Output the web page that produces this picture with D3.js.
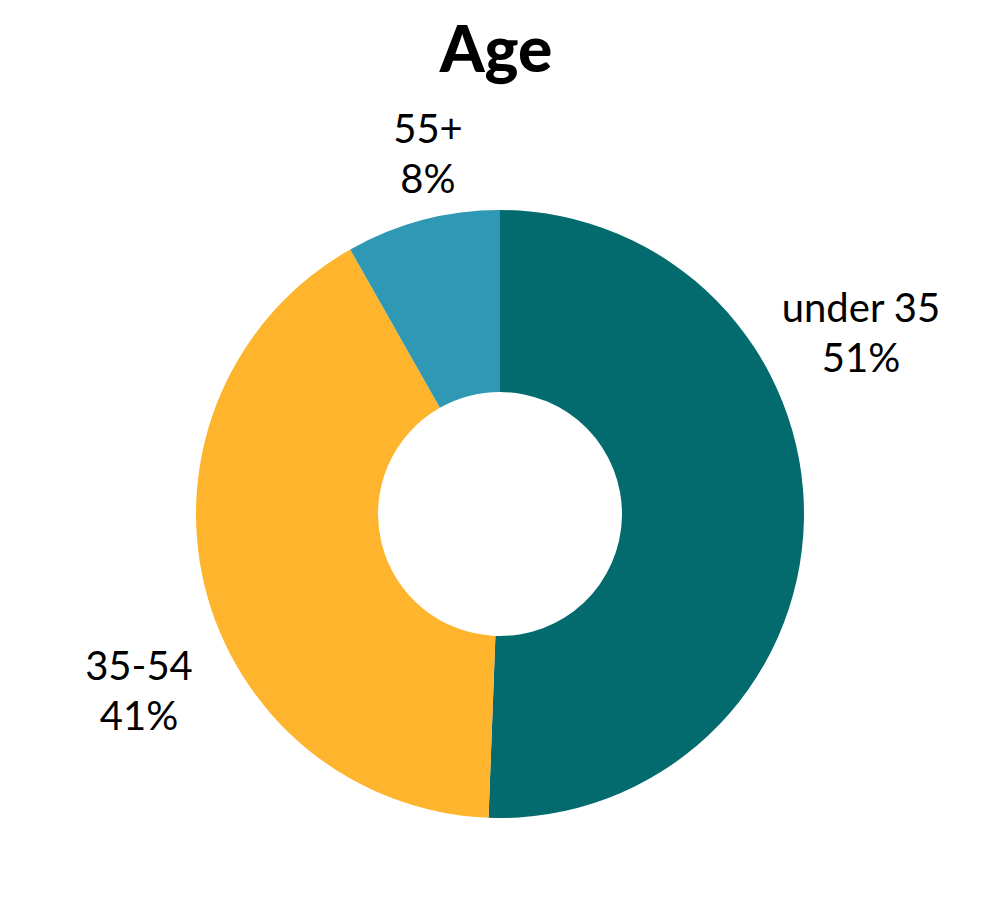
<!doctype html>
<html>
<head>
  <script src="https://cdn.jsdelivr.net/npm/d3@7/dist/d3.min.js"></script>
  <style>
    body { margin: 0; background: #fff; }
    text { font-family: Lato, "Open Sans", sans-serif; fill: #000; }
  </style>
</head>
<body>
  <div id="viz"></div>
  <script>
    // chart data (shares; labels show them rounded)
    var categories = ["under 35", "35-54", "55+"];
    var shares = [50.6, 41.2, 8.2];
    var colors = ["#036b6e", "#feb52d", "#2f98b5"];

    // label anchors (text centre x, first baseline y), one per category
    var labelAnchors = [[861, 322], [139, 680], [428, 143]];

    var width = 1000, height = 912;
    var cx = 500, cy = 514, outer = 304, inner = 122;

    var svg = d3.select("#viz")
      .append("svg")
      .attr("width", width)
      .attr("height", height);

    // title
    svg.append("text")
      .attr("x", 496)
      .attr("y", 72)
      .attr("text-anchor", "middle")
      .style("font-size", "64px")
      .style("font-weight", 900)
      .text("Age");

    var data = categories.map(function(c, i) {
      return {name: c, value: shares[i], color: colors[i]};
    });

    var pie = d3.pie()
      .sort(null)
      .value(function(d) { return d.value; });

    var arc = d3.arc()
      .innerRadius(inner)
      .outerRadius(outer);

    var g = svg.append("g")
      .attr("transform", "translate(" + cx + "," + cy + ")");

    g.selectAll("path")
      .data(pie(data))
      .enter()
      .append("path")
      .attr("d", arc)
      .style("fill", function(d) { return d.data.color; });

    // labels: name on first line, percent below
    var labels = svg.selectAll(".label")
      .data(data)
      .enter()
      .append("text")
      .attr("class", "label")
      .attr("text-anchor", "middle")
      .style("font-size", "40px");

    labels.append("tspan")
      .attr("x", function(d, i) { return labelAnchors[i][0]; })
      .attr("y", function(d, i) { return labelAnchors[i][1]; })
      .text(function(d) { return d.name; });

    labels.append("tspan")
      .attr("x", function(d, i) { return labelAnchors[i][0]; })
      .attr("y", function(d, i) { return labelAnchors[i][1] + 50; })
      .text(function(d) { return Math.round(d.value) + "%"; });
  </script>
</body>
</html>
